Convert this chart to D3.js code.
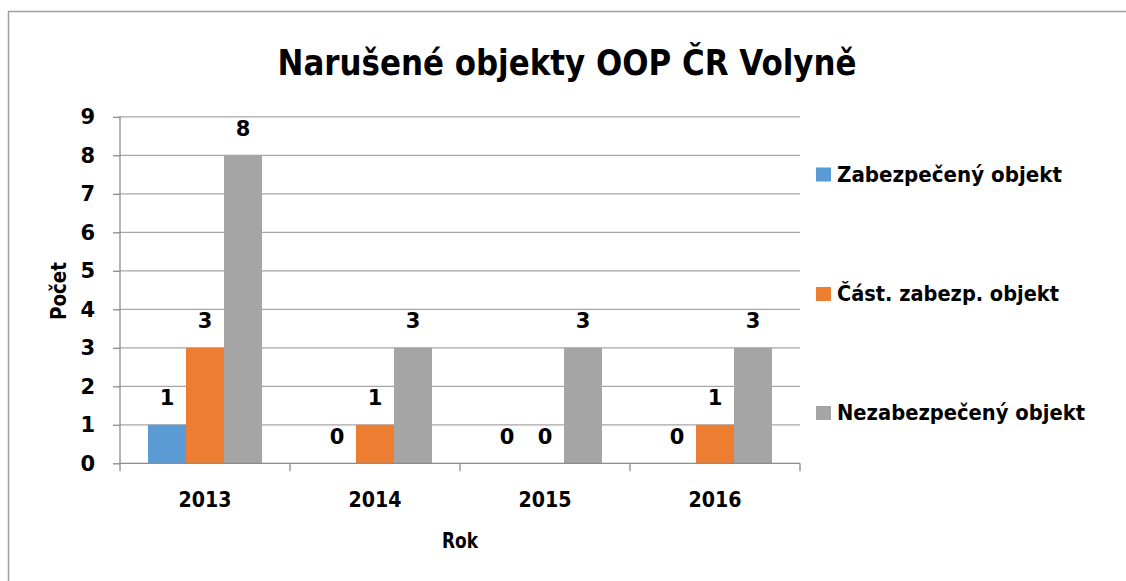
<!DOCTYPE html>
<html><head><meta charset="utf-8">
<script src="https://cdn.jsdelivr.net/npm/d3@7"></script>
<style>
html,body{margin:0;padding:0;background:#fff;}
svg text{font-family:"DejaVu Sans","Open Sans",sans-serif;font-weight:bold;fill:#000;}
</style></head>
<body><svg id="c" width="1126" height="581"></svg>
<script>
const categories = ["2013","2014","2015","2016"];
const seriesNames = ["Zabezpečený objekt","Část. zabezp. objekt","Nezabezpečený objekt"];
const zabezpeceny = [1,0,0,0];
const castZabezp = [3,1,0,1];
const nezabezpeceny = [8,3,3,3];
const yTicks = [0,1,2,3,4,5,6,7,8,9];
const colors = ["#5b9bd5","#ed7d31","#a5a5a5"];
const title = "Narušené objekty OOP ČR Volyně";

const series = [zabezpeceny, castZabezp, nezabezpeceny];
const svg = d3.select("#c");

// outer frame
svg.append("path").attr("d","M8.5,581 L8.5,11.5 L1126,11.5")
  .attr("fill","none").attr("stroke","#a0a0a0").attr("stroke-width",1.5);

const L=120, R=800, T=116.8, B=463.3;
const x = d3.scaleBand().domain(categories).range([L,R]).paddingInner(0).paddingOuter(0);
const groupPad = 28;
const inner = d3.scaleBand().domain([0,1,2]).range([groupPad, x.bandwidth()-groupPad]).padding(0);
const y = d3.scaleLinear().domain([0,9]).range([B,T]);

// gridlines
svg.append("g").selectAll("line").data(yTicks.filter(d=>d>0)).join("line")
  .attr("x1",L).attr("x2",R).attr("y1",d=>y(d)).attr("y2",d=>y(d))
  .attr("stroke","#a6a6a6").attr("stroke-width",1.3);

// bars
const g = svg.append("g");
series.forEach((vals,si)=>{
  g.selectAll(null).data(vals).join("rect")
    .attr("x",(d,i)=>x(categories[i])+inner(si))
    .attr("width",inner.bandwidth())
    .attr("y",d=>y(d)).attr("height",d=>B-y(d))
    .attr("fill",colors[si]);
  g.selectAll(null).data(vals).join("text")
    .attr("x",(d,i)=>x(categories[i])+inner(si)+inner.bandwidth()/2)
    .attr("y",d=>y(d)-27).attr("dy","0.35em")
    .attr("text-anchor","middle").style("font-size","21px")
    .text(d=>d);
});

// y axis
const ya = svg.append("g").attr("transform",`translate(${L},0)`)
  .call(d3.axisLeft(y).tickValues(yTicks).tickSize(7).tickPadding(18).tickFormat(d3.format("d")));
ya.select(".domain").attr("stroke","#8c8c8c").attr("stroke-width",1.3).attr("d",`M0,${B}V${T-0.5}`);
ya.selectAll(".tick line").attr("stroke","#8c8c8c").attr("stroke-width",1.3);
ya.selectAll(".tick text").style("font-size","21px").attr("font-family",null).attr("fill","#000").attr("x",-25);

// x axis
const xa = svg.append("g").attr("transform",`translate(0,${B})`)
  .call(d3.axisBottom(x).tickSize(0).tickPadding(29));
xa.select(".domain").attr("stroke","#8c8c8c").attr("stroke-width",1.3).attr("d",`M${L},0H${R}`);
xa.selectAll(".tick text").style("font-size","21px").attr("font-family",null).attr("fill","#000")
  .attr("textLength",53).attr("lengthAdjust","spacingAndGlyphs");
// category separator ticks
xa.selectAll("line.sep").data(d3.range(categories.length+1)).join("line").attr("class","sep")
  .attr("x1",i=>L+i*x.bandwidth()).attr("x2",i=>L+i*x.bandwidth())
  .attr("y1",0).attr("y2",8).attr("stroke","#8c8c8c").attr("stroke-width",1.3);

// axis titles
svg.append("text").attr("x",460).attr("y",541).attr("dy","0.35em").attr("text-anchor","middle")
  .style("font-size","21px").attr("textLength",36).attr("lengthAdjust","spacingAndGlyphs").text("Rok");
svg.append("text").attr("transform","translate(59,291) rotate(-90)").attr("dy","0.35em").attr("text-anchor","middle")
  .style("font-size","21px").attr("textLength",58).attr("lengthAdjust","spacingAndGlyphs").text("Počet");

// title
svg.append("text").attr("x",567).attr("y",62).attr("dy","0.35em").attr("text-anchor","middle")
  .style("font-size","36px").attr("textLength",579).attr("lengthAdjust","spacingAndGlyphs").text(title);

// legend
const legY=[174.5,294,413];
const legLen=[225,222,248];
const lg = svg.append("g");
seriesNames.forEach((n,i)=>{
  lg.append("rect").attr("x",816).attr("y",legY[i]-7).attr("width",15).attr("height",14).attr("fill",colors[i]);
  lg.append("text").attr("x",837).attr("y",legY[i]).attr("dy","0.35em").style("font-size","21px")
    .attr("textLength",legLen[i]).attr("lengthAdjust","spacingAndGlyphs").text(n);
});
</script></body></html>
